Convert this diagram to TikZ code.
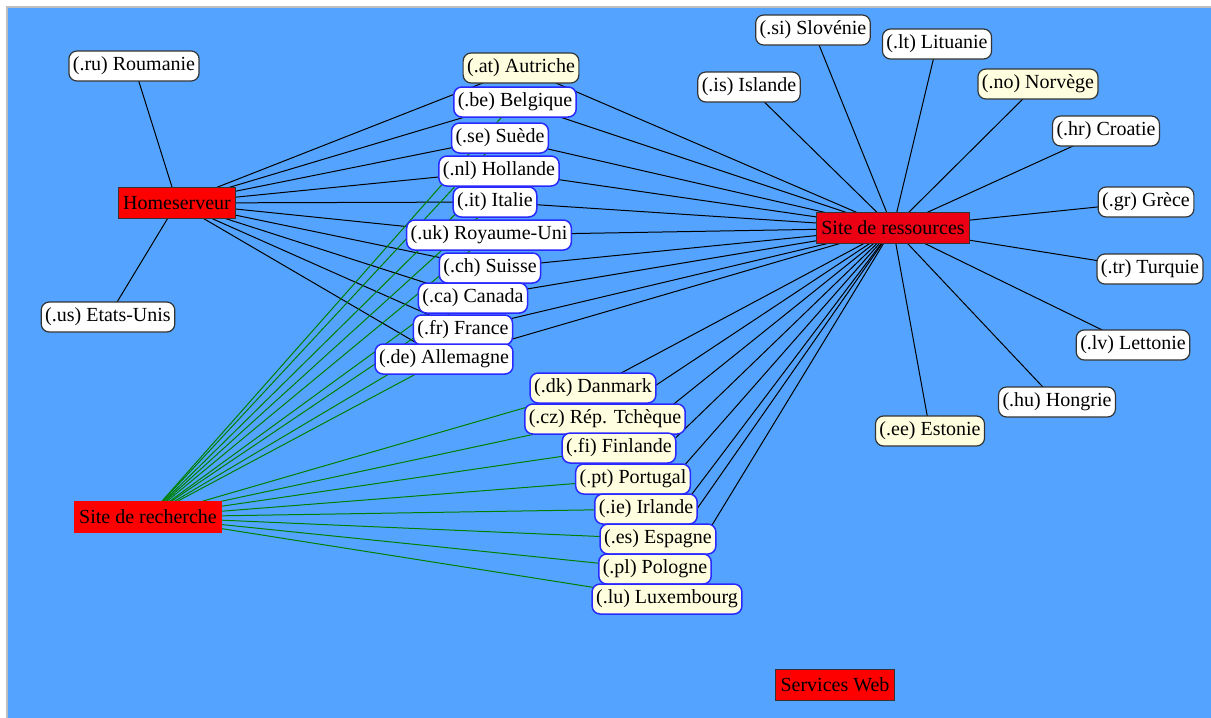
\documentclass[tikz,border=0pt]{standalone}
\usepackage{fontspec}
\setmainfont{Liberation Serif}
\pgfdeclarelayer{bg}
\pgfdeclarelayer{edges}
\pgfsetlayers{bg,edges,main}
\definecolor{bgblue}{RGB}{84,164,255}
\definecolor{midblue}{RGB}{40,40,255}
\definecolor{lightyel}{RGB}{255,255,224}
\definecolor{edgegreen}{RGB}{0,128,0}
\definecolor{framegray}{RGB}{190,190,190}
\begin{document}
\begin{tikzpicture}[x=1pt,y=-1pt,
  country/.style={rectangle, rounded corners=8pt, draw=black!80, line width=1.2pt, fill=white,
    inner xsep=4pt, inner ysep=0pt, minimum height=30pt, font=\fontsize{20}{24}\selectfont},
  midc/.style={country, draw=midblue, line width=1.5pt},
  yel/.style={fill=lightyel},
  site/.style={rectangle, fill=red, draw=black!80, line width=1pt, inner xsep=5pt, inner ysep=0pt,
    minimum height=31pt, font=\fontsize{20}{24}\selectfont},
  bedge/.style={black, line width=1pt},
  gedge/.style={edgegreen, line width=1pt}]
\useasboundingbox (0,0) rectangle (1211,718);
\begin{pgfonlayer}{bg}
  \fill[white] (0,0) rectangle (1211,718);
  \fill[bgblue] (8,8) rectangle (1211,718);
  \draw[framegray, line width=1.2pt] (7,718) -- (7,7) -- (1211,7);
\end{pgfonlayer}

% hubs
\node[site] (home) at (177,203) {Homeserveur};
\node[site, fill={rgb,255:red,235;green,0;blue,20}] (res) at (893,228) {Site de ressources};
\node[site, draw=red] (rech) at (148,517) {Site de recherche};
\node[site] (web) at (835,685) {Services Web};

% left outer
\node[country] (c-ru) at (134,66) {(.ru) Roumanie};
\node[country] (c-us) at (108,317) {(.us) Etats-Unis};

% middle column
\node[country, yel] (c-at) at (521,68) {(.at) Autriche};
\node[midc] (c-be) at (515,102) {(.be) Belgique};
\node[midc] (c-se) at (500,138) {(.se) Suède};
\node[midc] (c-nl) at (499,171) {(.nl) Hollande};
\node[midc] (c-it) at (495,202) {(.it) Italie};
\node[midc] (c-uk) at (489,235) {(.uk) Royaume-Uni};
\node[midc] (c-ch) at (490,268) {(.ch) Suisse};
\node[midc] (c-ca) at (473,298) {(.ca) Canada};
\node[midc] (c-fr) at (463,330) {(.fr) France};
\node[midc] (c-de) at (444,359) {(.de) Allemagne};

\node[midc, yel] (c-dk) at (593,388) {(.dk) Danmark};
\node[midc, yel] (c-cz) at (605,419) {(.cz) Rép. Tchèque};
\node[midc, yel] (c-fi) at (619,448) {(.fi) Finlande};
\node[midc, yel] (c-pt) at (633,479) {(.pt) Portugal};
\node[midc, yel] (c-ie) at (646,509) {(.ie) Irlande};
\node[midc, yel] (c-es) at (658,539) {(.es) Espagne};
\node[midc, yel] (c-pl) at (655,569) {(.pl) Pologne};
\node[midc, yel] (c-lu) at (667,599) {(.lu) Luxembourg};

% right outer
\node[country] (c-si) at (813,30) {(.si) Slovénie};
\node[country] (c-lt) at (937,44) {(.lt) Lituanie};
\node[country] (c-is) at (749,87) {(.is) Islande};
\node[country, yel] (c-no) at (1038,84) {(.no) Norvège};
\node[country] (c-hr) at (1106,131) {(.hr) Croatie};
\node[country] (c-gr) at (1146,202) {(.gr) Grèce};
\node[country] (c-tr) at (1150,269) {(.tr) Turquie};
\node[country] (c-lv) at (1133,345) {(.lv) Lettonie};
\node[country] (c-hu) at (1057,402) {(.hu) Hongrie};
\node[country, yel] (c-ee) at (930,431) {(.ee) Estonie};

\begin{pgfonlayer}{edges}
  \foreach \n in {ru,us,at,be,se,nl,it,uk,ch,ca,fr,de}
    \draw[bedge] (home.center) -- (c-\n.center);
  \foreach \n in {at,be,se,nl,it,uk,ch,ca,fr,de,dk,cz,fi,pt,ie,es,pl,lu,si,lt,is,no,hr,gr,tr,lv,hu,ee}
    \draw[bedge] (res.center) -- (c-\n.center);
  \foreach \n in {be,se,nl,it,uk,ch,ca,fr,de,dk,cz,fi,pt,ie,es,pl,lu}
    \draw[gedge] (rech.center) -- (c-\n.center);
\end{pgfonlayer}
\end{tikzpicture}
\end{document}
